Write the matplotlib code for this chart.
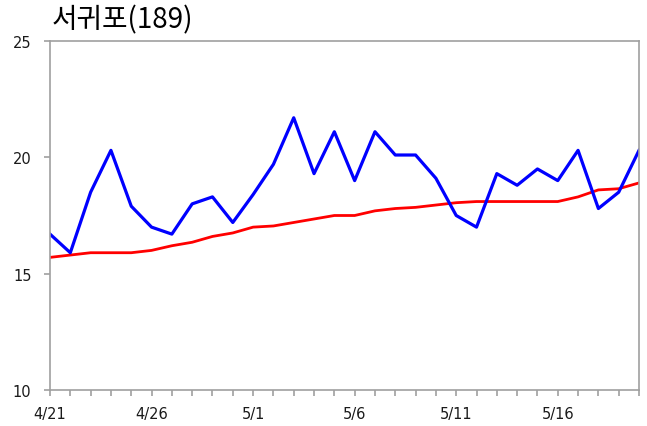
import numpy as np
import matplotlib.pyplot as plt

plt.rcParams['font.family'] = ['DejaVu Sans']

title = '서귀포(189)'
days = np.arange(30)
tick_pos = [0, 5, 10, 15, 20, 25]
tick_labels = ['4/21', '4/26', '5/1', '5/6', '5/11', '5/16']

temp = [16.7, 15.9, 18.5, 20.3, 17.9, 17.0, 16.7, 18.0, 18.3, 17.2,
        18.4, 19.7, 21.7, 19.3, 21.1, 19.0, 21.1, 20.1, 20.1, 19.1,
        17.5, 17.0, 19.3, 18.8, 19.5, 19.0, 20.3, 17.8, 18.5, 20.3]
normal = [15.7, 15.8, 15.9, 15.9, 15.9, 16.0, 16.2, 16.35, 16.6, 16.75,
          17.0, 17.05, 17.2, 17.35, 17.5, 17.5, 17.7, 17.8, 17.85, 17.95,
          18.05, 18.1, 18.1, 18.1, 18.1, 18.1, 18.3, 18.6, 18.65, 18.9]

fig = plt.figure(figsize=(6.47, 4.27), dpi=100)
ax = fig.add_axes([50/647, 1-391/427, 589/647, 349/427])

ax.plot(days, normal, color='#ff0000', lw=2.0)
ax.plot(days, temp, color='#0000ff', lw=2.3)

ax.set_xlim(0, 29)
ax.set_ylim(10, 25)
ax.set_yticks([10, 15, 20, 25])
ax.set_xticks(days, minor=True)
ax.set_xticks(tick_pos)
ax.set_xticklabels(tick_labels)

for s in ax.spines.values():
    s.set_color('#a0a0a0')
    s.set_linewidth(1.2)
ax.tick_params(which='both', colors='#a0a0a0', length=4.3, width=1.2,
               labelcolor='#1a1a1a', labelsize=10.5)
ax.tick_params(axis='x', which='both', pad=7)
ax.tick_params(axis='y', pad=9)

fig.text(52/647, 1-20/427, title, family=['Noto Sans CJK KR', 'DejaVu Sans'],
         fontsize=20, va='center', ha='left', color='black')

fig.savefig('out.png', dpi=100)
